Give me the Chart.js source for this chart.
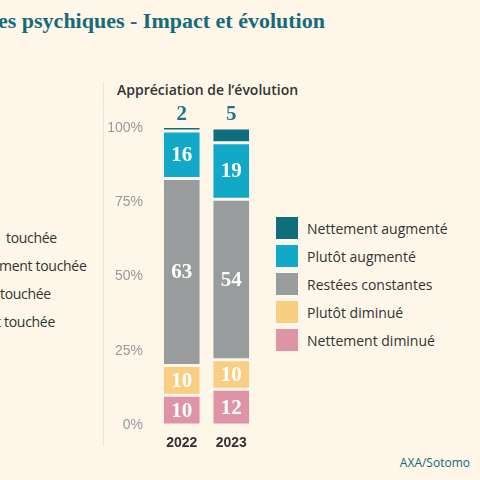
<!DOCTYPE html>
<html>
<head>
<meta charset="utf-8">
<script src="https://cdn.jsdelivr.net/npm/chart.js@4"></script>
<style>
  body { margin: 0; background: #fdf6e9; font-family: "Open Sans", sans-serif; }
  #wrap { position: relative; width: 480px; height: 480px; overflow: hidden; background: #fdf6e9; }
  .t { position: absolute; white-space: nowrap; }
  #title { left: -2px; top: 8px; font: bold 22px "Liberation Serif", serif; color: #156b79; }
  #sub { left: 117px; top: 80px; font-size: 14px; font-weight: 600; color: #333; }
  .left { font-size: 14px; color: #333; letter-spacing: -0.3px; }
  #sep { position: absolute; left: 103px; top: 82px; width: 1px; height: 364px; background: #eee6d3; }
  #chartBox { position: absolute; left: 100px; top: 100px; width: 160px; height: 350px; }
  #legend { position: absolute; left: 276px; top: 214px; }
  .li { display: flex; align-items: center; height: 28px; font-size: 14px; color: #333; }
  .sw { width: 22px; height: 22px; margin-right: 9px; }
  #src { right: 10px; top: 454px; font-size: 12px; color: #156b79; }
</style>
</head>
<body>
<div id="wrap">
  <div class="t" id="title">es psychiques - Impact et évolution</div>
  <div class="t" id="sub">Appréciation de l’évolution</div>
  <div class="t left" style="left:6px;top:228px">touchée</div>
  <div class="t left" style="left:-1px;top:256px">ment touchée</div>
  <div class="t left" style="left:0px;top:284px">touchée</div>
  <div class="t left" style="left:-4px;top:312px">t touchée</div>
  <div id="sep"></div>
  <div id="chartBox"><canvas id="c"></canvas></div>
  <div id="legend"></div>
  <div class="t" id="src">AXA/Sotomo</div>
</div>
<script>
const years = ["2022", "2023"]
const seriesNames = ["Nettement diminué", "Plutôt diminué", "Restées constantes", "Plutôt augmenté", "Nettement augmenté"]
const seriesColors = ["#de93a7", "#f8cf82", "#999c9d", "#12a9c9", "#0f6e7d"]
const nettementDiminue = [10, 12]
const plutotDiminue = [10, 10]
const resteesConstantes = [63, 54]
const plutotAugmente = [16, 19]
const nettementAugmente = [2, 5]
const yTicks = [0, 25, 50, 75, 100]
const allSeries = [nettementDiminue, plutotDiminue, resteesConstantes, plutotAugmente, nettementAugmente]

// legend, top item first
const legend = document.getElementById("legend")
for (let i = seriesNames.length - 1; i >= 0; i--) {
  legend.innerHTML += `<div class="li"><div class="sw" style="background:${seriesColors[i]}"></div>${seriesNames[i]}</div>`
}

const labelPlugin = {
  id: "segLabels",
  afterDatasetsDraw(chart) {
    const ctx = chart.ctx
    ctx.save()
    ctx.textAlign = "center"
    ctx.textBaseline = "middle"
    ctx.font = "bold 21px 'Liberation Serif', serif"
    chart.data.datasets.forEach((ds, di) => {
      chart.getDatasetMeta(di).data.forEach((bar, i) => {
        const v = ds.data[i]
        if (di === chart.data.datasets.length - 1) {
          ctx.fillStyle = "#1d7482"
          ctx.fillText(v, bar.x, chart.scales.y.getPixelForValue(100) - 13)
        } else {
          ctx.fillStyle = "#fff"
          ctx.fillText(v, bar.x, (bar.y + bar.base) / 2 + 1)
        }
      })
    })
    ctx.restore()
  }
}

new Chart(document.getElementById("c"), {
  type: "bar",
  data: {
    labels: years,
    datasets: allSeries.map((d, i) => ({
      label: seriesNames[i],
      data: d,
      backgroundColor: seriesColors[i],
      borderColor: "#fdf6e9",
      borderWidth: 1.5,
      borderSkipped: false,
      barPercentage: 0.78,
      categoryPercentage: 1,
    })),
  },
  options: {
    responsive: true,
    maintainAspectRatio: false,
    animation: false,
    layout: { padding: { top: 28, right: 4 } },
    plugins: { legend: { display: false }, tooltip: { enabled: false } },
    scales: {
      x: {
        stacked: true,
        grid: { display: false },
        border: { display: false },
        ticks: { color: "#333", font: { size: 14, weight: "bold" }, padding: 2 },
        afterFit: (s) => { s.height = 25 },
      },
      y: {
        stacked: true,
        min: 0,
        max: 100,
        grid: { display: false },
        border: { display: false },
        afterBuildTicks: (s) => { s.ticks = yTicks.map((v) => ({ value: v })) },
        ticks: { color: "#9a9a9a", font: { size: 14 }, padding: 6, callback: (v) => v + "%" },
        afterFit: (s) => { s.width = 57 },
      },
    },
  },
  plugins: [labelPlugin],
})
</script>
</body>
</html>
